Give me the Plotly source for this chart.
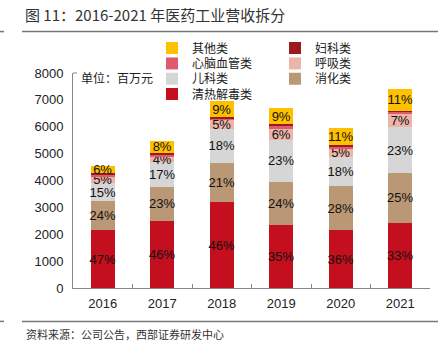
import plotly.graph_objects as go

years = ["2016", "2017", "2018", "2019", "2020", "2021"]

# values in 百万元
qingre = [2140, 2510, 3200, 2350, 2140, 2430]
xiaohua = [1090, 1250, 1460, 1610, 1670, 1850]
erke = [680, 930, 1250, 1540, 1070, 1700]
huxi = [230, 220, 350, 400, 300, 520]
xinnao = [80, 70, 50, 120, 80, 60]
fuke = [50, 50, 40, 80, 50, 40]
qita = [270, 440, 600, 600, 650, 800]

qingre_lbl = ["47%", "46%", "46%", "35%", "36%", "33%"]
xiaohua_lbl = ["24%", "23%", "21%", "24%", "28%", "25%"]
erke_lbl = ["15%", "17%", "18%", "23%", "18%", "23%"]
huxi_lbl = ["5%", "4%", "5%", "6%", "5%", "7%"]
qita_lbl = ["6%", "8%", "9%", "9%", "11%", "11%"]

W, H = 439, 347
L, R = 73, 430
T, B = 73.3, 287.7

def px(x):
    return (x - L) / (R - L)

def py(y):
    return (B - y) / (B - T)

# (name, values, labels, colour, legend column, legend row)
series = [
    ("清热解毒类", qingre, qingre_lbl, "#C40F1E", 0, 3),
    ("消化类", xiaohua, xiaohua_lbl, "#BA9775", 1, 2),
    ("儿科类", erke, erke_lbl, "#D6D6D6", 0, 2),
    ("呼吸类", huxi, huxi_lbl, "#EDB5AA", 1, 1),
    ("心脑血管类", xinnao, None, "#E05A6E", 0, 1),
    ("妇科类", fuke, None, "#9A1A1F", 1, 0),
    ("其他类", qita, qita_lbl, "#FFC000", 0, 0),
]

fig = go.Figure()
legend_layout = {}
for i, (name, vals, lbl, col, c, r) in enumerate(series):
    lname = "legend" if i == 0 else f"legend{i + 1}"
    fig.add_trace(go.Bar(
        x=years, y=vals, name=name, width=0.41,
        marker=dict(color=col, line=dict(width=0)),
        text=lbl if lbl else None,
        textposition="inside" if lbl else "none",
        insidetextanchor="middle",
        textangle=0,
        constraintext="none",
        textfont=dict(family="Arial, Liberation Sans, sans-serif", size=13, color="#111"),
        legend=lname,
        hoverinfo="skip",
    ))
    legend_layout[lname] = dict(
        x=px(152 if c == 0 else 275), y=py(34 + 15.3 * r),
        xanchor="left", yanchor="top", orientation="v",
        font=dict(family="Noto Sans CJK SC", size=12, color="#222"),
        bgcolor="rgba(0,0,0,0)", itemwidth=30,
    )

fig.update_layout(
    width=W, height=H,
    margin=dict(l=L, r=W - R, t=T, b=H - B),
    paper_bgcolor="white", plot_bgcolor="white",
    barmode="stack",
    showlegend=True,
    xaxis=dict(
        showline=True, linecolor="#888", linewidth=1,
        ticks="inside", ticklen=4, tickcolor="#888", tickson="boundaries",
        tickfont=dict(family="Arial, Liberation Sans, sans-serif", size=13, color="#222"),
        ticklabelstandoff=3,
        showgrid=False,
    ),
    yaxis=dict(
        range=[0, 8000], dtick=1000, showline=True, linecolor="#888", linewidth=1,
        ticks="", showgrid=False, zeroline=False, ticklabelstandoff=6,
        tickfont=dict(family="Arial, Liberation Sans, sans-serif", size=13, color="#222"),
    ),
    **legend_layout,
)

# corner tick at top of y axis
fig.add_shape(type="line", xref="paper", yref="paper", x0=0, x1=px(L + 4), y0=1, y1=1,
              line=dict(color="#888", width=1))

# header / footer rules
for yy in (32, 321):
    fig.add_shape(type="line", xref="paper", yref="paper", x0=px(22), x1=px(438),
                  y0=py(yy), y1=py(yy), line=dict(color="#777", width=1.5))
    fig.add_shape(type="line", xref="paper", yref="paper", x0=px(0), x1=px(4),
                  y0=py(yy), y1=py(yy), line=dict(color="#777", width=1.5))

fig.add_annotation(text="图 11：2016-2021 年医药工业营收拆分", xref="paper", yref="paper",
                   x=px(23), y=py(15), xanchor="left", yanchor="middle", showarrow=False,
                   font=dict(family="Noto Sans CJK SC", size=15, color="#333"))
fig.add_annotation(text="资料来源：公司公告，西部证券研发中心", xref="paper", yref="paper",
                   x=px(24), y=py(334), xanchor="left", yanchor="middle", showarrow=False,
                   font=dict(family="Noto Sans CJK SC", size=11, color="#333"))
fig.add_annotation(text="单位：百万元", xref="paper", yref="paper",
                   x=px(79), y=py(78), xanchor="left", yanchor="middle", showarrow=False,
                   font=dict(family="Noto Sans CJK SC", size=12, color="#222"))

fig.write_html("out.html")
